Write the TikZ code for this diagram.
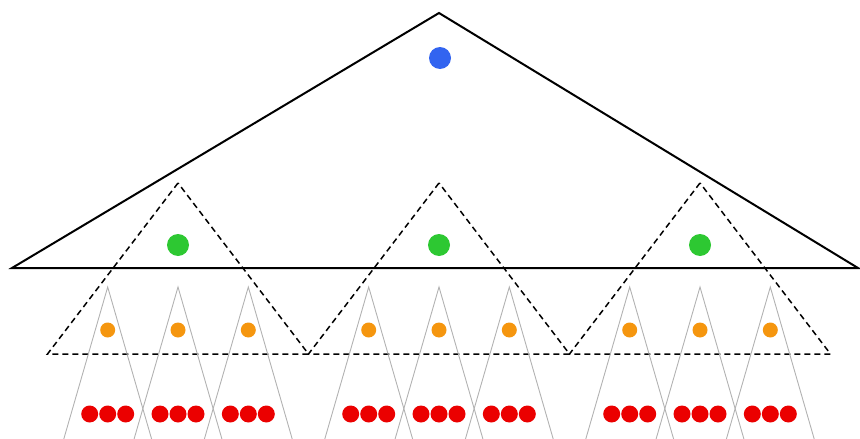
\documentclass[tikz,border=0pt]{standalone}
\usepackage{tikz}
\usetikzlibrary{calc}

\definecolor{rootblue}{RGB}{50,100,240}
\definecolor{midgreen}{RGB}{45,200,50}
\definecolor{leaforange}{RGB}{245,150,15}
\definecolor{leafred}{RGB}{235,0,0}

\tikzset{
	dot/.style={circle, inner sep=0pt, draw=none},
	rootdot/.style={dot, fill=rootblue, minimum size=22pt},
	greendot/.style={dot, fill=midgreen, minimum size=22pt},
	orangedot/.style={dot, fill=leaforange, minimum size=15pt},
	reddot/.style={dot, fill=leafred, minimum size=17pt},
	bigtri/.style={draw=black, line width=2pt, line join=miter},
	subtri/.style={draw=black, line width=1.5pt, dash pattern=on 6pt off 4pt},
	leaftri/.style={draw=black!30, line width=0.9pt}
}

\begin{document}
\begin{tikzpicture}[x=1pt, y=-1pt]
	\useasboundingbox (0,0) rectangle (860,439);
	\clip (0,0) rectangle (860,439);
	% outer tree
	\coordinate (top) at (439,13);
	\coordinate (bl) at (12,268);
	\coordinate (br) at (858,268);
	\draw[bigtri] (bl) -- (top) -- (br) -- cycle;
	\node[rootdot] (root) at (440,58) {};
	% middle level
	\foreach \cx/\nm in {178/a, 439/b, 700/c} {
		\coordinate (\nm top) at (\cx,183);
		\draw[subtri] (\nm top) -- ++(-130.5,171) -- ++(261,0) -- cycle;
		\node[greendot] (\nm) at (\cx,245) {};
	}
	% leaf level
	\foreach \cx [count=\i] in {107.7,178,248.3, 368.7,439,509.3, 629.7,700,770.3} {
		\coordinate (t\i) at (\cx,287);
		\draw[leaftri] ($(t\i)+(-52,180)$) -- (t\i) -- ($(t\i)+(52,180)$);
		\node[orangedot] (o\i) at (\cx,330) {};
		\node[reddot] (r\i a) at ($(\cx,414)+(-18,0)$) {};
		\node[reddot] (r\i b) at (\cx,414) {};
		\node[reddot] (r\i c) at ($(\cx,414)+(18,0)$) {};
	}
\end{tikzpicture}
\end{document}
